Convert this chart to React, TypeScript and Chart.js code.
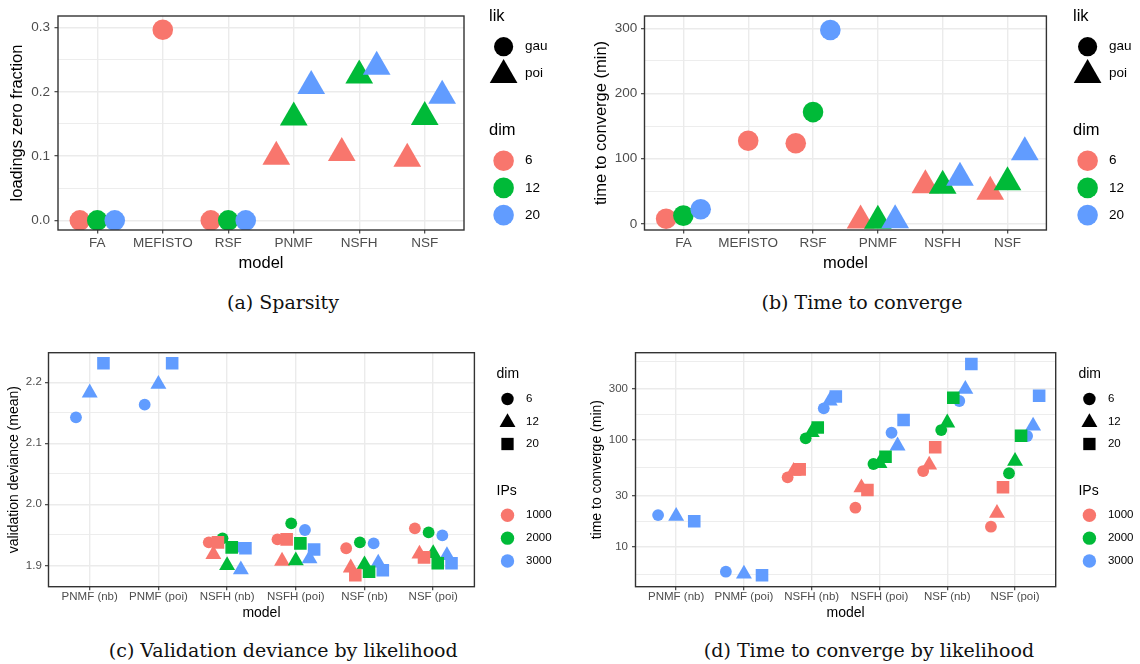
import React, { useEffect, useRef } from 'react';
import { Chart, registerables } from 'chart.js';

Chart.register(...registerables);

const SANS = '"Liberation Sans", Arial, Helvetica, sans-serif';
const SERIF = '"DejaVu Serif", "Liberation Serif", serif';
const HUE = ['#F8766D', '#00BA38', '#619CFF'];
const GRID = '#EBEBEB';
const INK = '#333333';
const TICK_TEXT = '#4D4D4D';

// ---------- (a) and (b): per model ----------
const MODELS = ['FA', 'MEFISTO', 'RSF', 'PNMF', 'NSFH', 'NSF'];
const MODEL_LIK = ['gau', 'gau', 'gau', 'poi', 'poi', 'poi'];
const LIKS = ['gau', 'poi'];
const DIMS = ['6', '12', '20'];

const SPARSITY_DIM6 = [0, 0.2965, 0, 0.099, 0.105, 0.096];
const SPARSITY_DIM12 = [0, null, 0, 0.16, 0.2255, 0.161];
const SPARSITY_DIM20 = [0, null, 0, 0.209, 0.239, 0.194];
const SPARSITY_TICKS = [0, 0.1, 0.2, 0.3];

const TIME_DIM6 = [7.9, 127.6, 123.8, 5.3, 59.4, 49.4];
const TIME_DIM12 = [12.8, null, 171.6, 5.0, 58.7, 64];
const TIME_DIM20 = [22.6, null, 297.6, 5.6, 71, 110];
const TIME_TICKS = [0, 100, 200, 300];

// ---------- (c) and (d): per model and likelihood ----------
const MODELS_LIK = ['PNMF (nb)', 'PNMF (poi)', 'NSFH (nb)', 'NSFH (poi)', 'NSF (nb)', 'NSF (poi)'];
const IPS = ['1000', '2000', '3000'];

const DEV_IP1000_DIM6 = [null, null, 1.9377, 1.9426, 1.928, 1.9607];
const DEV_IP1000_DIM12 = [null, null, 1.918, 1.907, 1.896, 1.9187];
const DEV_IP1000_DIM20 = [null, null, 1.9377, 1.9426, 1.884, 1.913];
const DEV_IP2000_DIM6 = [null, null, 1.9443, 1.9689, 1.9377, 1.954];
const DEV_IP2000_DIM12 = [null, null, 1.9, 1.9077, 1.901, 1.9195];
const DEV_IP2000_DIM20 = [null, null, 1.9295, 1.936, 1.8895, 1.9033];
const DEV_IP3000_DIM6 = [2.1426, 2.1633, 1.93, 1.9579, 1.936, 1.949];
const DEV_IP3000_DIM12 = [2.1828, 2.197, 1.893, 1.911, 1.904, 1.9164];
const DEV_IP3000_DIM20 = [2.2311, 2.2311, 1.928, 1.926, 1.892, 1.9033];
const DEV_TICKS = [1.9, 2.0, 2.1, 2.2];

const TCL_IP1000_DIM6 = [null, null, 44.7, 23.2, 51.2, 15.4];
const TCL_IP1000_DIM12 = [null, null, 51, 35.8, 58.5, 20.6];
const TCL_IP1000_DIM20 = [null, null, 53.1, 34.0, 85.4, 36.1];
const TCL_IP2000_DIM6 = [null, null, 103.7, 59.6, 124, 48.8];
const TCL_IP2000_DIM12 = [null, null, 118, 60.4, 145, 63.4];
const TCL_IP2000_DIM20 = [null, null, 131, 69.8, 249, 109.7];
const TCL_IP3000_DIM6 = [19.8, 5.83, 198, 117, 232, 109];
const TCL_IP3000_DIM12 = [19.3, 5.56, 232, 88.3, 300, 135.8];
const TCL_IP3000_DIM20 = [17.3, 5.4, 256, 154, 515, 260];
const TCL_TICKS = [1, 3, 10, 30, 100, 300, 1000];

// ---------- helpers ----------
type Shape = 'circle' | 'triangle' | 'rect';
type Val = number | null;

const LIK_SHAPE: Record<string, Shape> = { gau: 'circle', poi: 'triangle' };
const DIM_SHAPE: Shape[] = ['circle', 'triangle', 'rect'];
const BIG_R: Record<Shape, number> = { circle: 10.3, triangle: 16, rect: 12 };
const SMALL_R: Record<Shape, number> = { circle: 5.9, triangle: 9.2, rect: 8.9 };

function dodge(groups: Val[][], width: number) {
  return groups.map((vals, g) =>
    vals
      .map((v, i) => {
        if (v === null) return null;
        const present = groups.map((gv, gi) => (gv[i] === null ? -1 : gi)).filter((gi) => gi >= 0);
        const k = present.indexOf(g);
        const n = present.length;
        return { x: i + 1 - width / 2 + (width / n) * (k + 0.5), y: v, cat: i };
      })
      .filter((p) => p !== null) as { x: number; y: number; cat: number }[]
  );
}

function linMinors(majors: number[]) {
  const step = majors[1] - majors[0];
  const out = [majors[0] - step / 2];
  for (let i = 0; i < majors.length - 1; i++) out.push((majors[i] + majors[i + 1]) / 2);
  out.push(majors[majors.length - 1] + step / 2);
  return out;
}
function logMinors(majors: number[]) {
  const out: number[] = [];
  for (let i = 0; i < majors.length - 1; i++) out.push(Math.sqrt(majors[i] * majors[i + 1]));
  return out;
}

function pointDataset(data: any[], color: string, radii: Record<Shape, number>, order: number, shapeOf: (p: any) => Shape) {
  return {
    data: data.map((p) => ({ ...p, s: shapeOf(p) })),
    pointStyle: (c: any) => (c.raw && c.raw.s) || 'circle',
    pointRadius: (c: any) => radii[((c.raw && c.raw.s) || 'circle') as Shape],
    pointHoverRadius: (c: any) => radii[((c.raw && c.raw.s) || 'circle') as Shape],
    pointBackgroundColor: color,
    pointBorderColor: color,
    pointBorderWidth: 0,
    pointHoverBorderWidth: 0,
    showLine: false,
    order,
  };
}

const sparsityPts = dodge([SPARSITY_DIM6, SPARSITY_DIM12, SPARSITY_DIM20], 0.8);
const sparsitySets = sparsityPts.map((pts, d) => pointDataset(pts, HUE[d], BIG_R, 10 - d, (p) => LIK_SHAPE[MODEL_LIK[p.cat]]));
const timePts = dodge([TIME_DIM6, TIME_DIM12, TIME_DIM20], 0.8);
const timeSets = timePts.map((pts, d) => pointDataset(pts, HUE[d], BIG_R, 10 - d, (p) => LIK_SHAPE[MODEL_LIK[p.cat]]));

function likSets(table: Val[][][], width: number) {
  const groups: Val[][] = [];
  table.forEach((row) => row.forEach((vals) => groups.push(vals)));
  const pts = dodge(groups, width);
  const sets: any[] = [];
  for (let ip = 0; ip < 3; ip++) {
    for (let dim = 0; dim < 3; dim++) {
      const drawIdx = dim * 3 + ip;
      sets.push(pointDataset(pts[ip * 3 + dim], HUE[ip], SMALL_R, 100 - drawIdx, () => DIM_SHAPE[dim]));
    }
  }
  return sets;
}
const devSets = likSets(
  [
    [DEV_IP1000_DIM6, DEV_IP1000_DIM12, DEV_IP1000_DIM20],
    [DEV_IP2000_DIM6, DEV_IP2000_DIM12, DEV_IP2000_DIM20],
    [DEV_IP3000_DIM6, DEV_IP3000_DIM12, DEV_IP3000_DIM20],
  ],
  0.6
);
const tclSets = likSets(
  [
    [TCL_IP1000_DIM6, TCL_IP1000_DIM12, TCL_IP1000_DIM20],
    [TCL_IP2000_DIM6, TCL_IP2000_DIM12, TCL_IP2000_DIM20],
    [TCL_IP3000_DIM6, TCL_IP3000_DIM12, TCL_IP3000_DIM20],
  ],
  0.8
);

// ---------- legend ----------
type LegItem =
  | { t: 'title'; text: string; x: number; y: number; size: number }
  | { t: 'key'; shape: Shape; color: string; x: number; y: number; r: number; text: string; tx: number; ty: number; size: number };

function bigLegend(x0: number): LegItem[] {
  const items: LegItem[] = [];
  items.push({ t: 'title', text: 'lik', x: x0, y: 16.7, size: 16.5 });
  LIKS.forEach((l, i) => {
    const sh = LIK_SHAPE[l];
    const ry = 46.7 + 26.6 * i;
    items.push({ t: 'key', shape: sh, color: '#000', x: x0 + 14.6, y: ry + (sh === 'triangle' ? 1.6 : 0), r: sh === 'triangle' ? 16 : 9.6, text: l, tx: x0 + 36, ty: ry, size: 13.5 });
  });
  items.push({ t: 'title', text: 'dim', x: x0, y: 130, size: 16.5 });
  DIMS.forEach((d, i) => {
    const ry = 160.7 + 27.2 * i;
    items.push({ t: 'key', shape: 'circle', color: HUE[i], x: x0 + 14.6, y: ry, r: 10.3, text: d, tx: x0 + 36, ty: ry, size: 13.5 });
  });
  return items;
}
function smallLegend(x0: number): LegItem[] {
  const items: LegItem[] = [];
  items.push({ t: 'title', text: 'dim', x: x0, y: 374.3, size: 14 });
  DIMS.forEach((d, i) => {
    const sh = DIM_SHAPE[i];
    const ry = 399 + 22.5 * i;
    const r = sh === 'circle' ? 6.2 : sh === 'triangle' ? 9.2 : 8.7;
    items.push({ t: 'key', shape: sh, color: '#000', x: x0 + 11, y: ry + (sh === 'triangle' ? 1 : 0), r, text: d, tx: x0 + 29.5, ty: ry, size: 11.5 });
  });
  items.push({ t: 'title', text: 'IPs', x: x0, y: 491.5, size: 14 });
  IPS.forEach((ip, i) => {
    const ry = 515.3 + 22.85 * i;
    items.push({ t: 'key', shape: 'circle', color: HUE[i], x: x0 + 11, y: ry, r: 6.7, text: ip, tx: x0 + 29.5, ty: ry, size: 11.5 });
  });
  return items;
}

function drawShape(ctx: CanvasRenderingContext2D, shape: Shape, x: number, y: number, r: number) {
  ctx.beginPath();
  if (shape === 'circle') {
    ctx.arc(x, y, r, 0, Math.PI * 2);
  } else if (shape === 'triangle') {
    const s = Math.sin((2 * Math.PI) / 3) * r;
    ctx.moveTo(x, y - r);
    ctx.lineTo(x + s, y + r / 2);
    ctx.lineTo(x - s, y + r / 2);
    ctx.closePath();
  } else {
    const h = Math.SQRT1_2 * r;
    ctx.rect(x - h, y - h, 2 * h, 2 * h);
  }
  ctx.fill();
}

function framePlugin(items: LegItem[], ox: number, oy: number) {
  return {
    id: 'ggFrame',
    afterDraw(chart: any) {
      const ctx: CanvasRenderingContext2D = chart.ctx;
      const a = chart.chartArea;
      ctx.save();
      ctx.strokeStyle = INK;
      ctx.lineWidth = 1.4;
      ctx.strokeRect(a.left, a.top, a.right - a.left, a.bottom - a.top);
      ctx.textBaseline = 'middle';
      ctx.textAlign = 'left';
      for (const it of items) {
        if (it.t === 'title') {
          ctx.fillStyle = '#000';
          ctx.font = `${it.size}px ${SANS}`;
          ctx.fillText(it.text, it.x - ox, it.y - oy);
        } else {
          ctx.fillStyle = it.color;
          drawShape(ctx, it.shape, it.x - ox, it.y - oy, it.r);
          ctx.fillStyle = '#000';
          ctx.font = `${it.size}px ${SANS}`;
          ctx.fillText(it.text, it.tx - ox, it.ty - oy);
        }
      }
      ctx.restore();
    },
  };
}

// ---------- panels ----------
interface Panel {
  x: number; y: number; w: number; h: number;
  area: [number, number, number, number];
  datasets: any[];
  cats: string[];
  yType: 'linear' | 'logarithmic';
  yMin: number; yMax: number;
  majors: number[]; minors: number[];
  fmt: (v: number) => string;
  yTitle: string;
  tickSize: number; titleSize: number;
  yTickPad: number; yTitlePad: number; xTickPad: number; xTitlePad: number;
  legend: LegItem[];
}

const PANELS: Panel[] = [
  {
    x: 0, y: 0, w: 568, h: 285, area: [58, 6, 464, 230], datasets: sparsitySets, cats: MODELS,
    yType: 'linear', yMin: -0.0149, yMax: 0.318, majors: SPARSITY_TICKS, minors: linMinors(SPARSITY_TICKS),
    fmt: (v) => v.toFixed(1), yTitle: 'loadings zero fraction', tickSize: 13.5, titleSize: 16.5,
    yTickPad: 4.5, yTitlePad: 7.6, xTickPad: 1.7, xTitlePad: 12.1, legend: bigLegend(489),
  },
  {
    x: 570, y: 0, w: 570, h: 285, area: [74.5, 6, 476.4, 230], datasets: timeSets, cats: MODELS,
    yType: 'linear', yMin: -9.3, yMax: 319, majors: TIME_TICKS, minors: linMinors(TIME_TICKS),
    fmt: (v) => String(Math.round(v)), yTitle: 'time to converge (min)', tickSize: 13.5, titleSize: 16.5,
    yTickPad: 3.7, yTitlePad: 21.1, xTickPad: 1.7, xTitlePad: 12.1, legend: bigLegend(1073),
  },
  {
    x: 0, y: 340, w: 568, h: 290, area: [48.5, 12.7, 474.4, 246.7], datasets: devSets, cats: MODELS_LIK,
    yType: 'linear', yMin: 1.865, yMax: 2.2485, majors: DEV_TICKS, minors: linMinors(DEV_TICKS),
    fmt: (v) => v.toFixed(1), yTitle: 'validation deviance (mean)', tickSize: 11.5, titleSize: 14,
    yTickPad: 3.2, yTitlePad: 6.1, xTickPad: 0.2, xTitlePad: 8.9, legend: smallLegend(496.5),
  },
  {
    x: 570, y: 340, w: 570, h: 290, area: [65.5, 12.7, 485.7, 246.7], datasets: tclSets, cats: MODELS_LIK,
    yType: 'logarithmic', yMin: 4.22, yMax: 658, majors: TCL_TICKS, minors: logMinors(TCL_TICKS),
    fmt: (v) => String(v), yTitle: 'time to converge (min)', tickSize: 11.5, titleSize: 14,
    yTickPad: 4, yTitlePad: 18.9, xTickPad: 0.2, xTitlePad: 8.9, legend: smallLegend(1078.4),
  },
];

const CAPTIONS = [
  { text: '(a) Sparsity', x: 283, y: 301.7 },
  { text: '(b) Time to converge', x: 862, y: 301.7 },
  { text: '(c) Validation deviance by likelihood', x: 283.3, y: 650 },
  { text: '(d) Time to converge by likelihood', x: 869, y: 650 },
];

function makeConfig(p: Panel): any {
  const [l, t, r, b] = p.area;
  const tickFont = { family: SANS, size: p.tickSize };
  const titleFont = { family: SANS, size: p.titleSize };
  const yTicks = [
    ...p.majors.map((v) => ({ value: v, minor: false })),
    ...p.minors.map((v) => ({ value: v, minor: true })),
  ]
    .filter((tk) => tk.value >= p.yMin && tk.value <= p.yMax)
    .sort((a, c) => a.value - c.value);
  const isMinor = (c: any) => !!(c && c.tick && c.tick.minor);
  return {
    type: 'scatter',
    data: { datasets: p.datasets },
    options: {
      animation: false,
      responsive: false,
      maintainAspectRatio: false,
      events: [],
      layout: { padding: { left: 0, top: t, right: p.w - r, bottom: 0 } },
      plugins: { legend: { display: false }, tooltip: { enabled: false } },
      scales: {
        x: {
          type: 'linear',
          bounds: 'data',
          min: 0.4,
          max: 6.6,
          afterBuildTicks: (s: any) => {
            s.ticks = p.cats.map((_, i) => ({ value: i + 1 }));
          },
          afterFit: (s: any) => {
            s.height = p.h - b;
            s.paddingLeft = 0;
            s.paddingRight = 0;
            s.paddingTop = 0;
            s.paddingBottom = 0;
          },
          ticks: {
            autoSkip: false,
            maxRotation: 0,
            minRotation: 0,
            color: TICK_TEXT,
            font: tickFont,
            padding: p.xTickPad,
            callback: (v: any) => p.cats[Math.round(Number(v)) - 1] ?? '',
          },
          grid: { color: GRID, lineWidth: 1.4, tickColor: INK, tickLength: 3.5, tickWidth: 1.1 },
          border: { display: false },
          title: { display: true, text: 'model', color: '#000', font: titleFont, padding: { top: 0, bottom: p.xTitlePad } },
        },
        y: {
          type: p.yType,
          bounds: 'data',
          min: p.yMin,
          max: p.yMax,
          afterBuildTicks: (s: any) => {
            s.ticks = yTicks.map((tk) => ({ ...tk }));
          },
          afterFit: (s: any) => {
            s.width = l;
            s.paddingLeft = 0;
            s.paddingRight = 0;
            s.paddingTop = 0;
            s.paddingBottom = 0;
          },
          ticks: {
            autoSkip: false,
            color: TICK_TEXT,
            font: tickFont,
            padding: p.yTickPad,
            callback: (v: any, i: number, ticks: any[]) => (ticks[i] && ticks[i].minor ? '' : p.fmt(Number(v))),
          },
          grid: {
            color: GRID,
            lineWidth: (c: any) => (isMinor(c) ? 0.9 : 1.4),
            tickColor: (c: any) => (isMinor(c) ? 'rgba(0,0,0,0)' : INK),
            tickLength: 3.5,
            tickWidth: 1.1,
          },
          border: { display: false },
          title: { display: true, text: p.yTitle, color: '#000', font: titleFont, padding: { top: p.yTitlePad, bottom: 0 } },
        },
      },
    },
    plugins: [framePlugin(p.legend, p.x, p.y)],
  };
}

export default function App() {
  const refs = useRef<(HTMLCanvasElement | null)[]>([]);
  useEffect(() => {
    const charts = PANELS.map((p, i) => new Chart(refs.current[i] as HTMLCanvasElement, makeConfig(p)));
    return () => charts.forEach((c) => c.destroy());
  }, []);
  return (
    <div style={{ position: 'fixed', left: 0, top: 0, width: 1140, height: 664, background: '#fff', overflow: 'hidden' }}>
      {PANELS.map((p, i) => (
        <canvas
          key={i}
          ref={(el) => {
            refs.current[i] = el;
          }}
          width={p.w}
          height={p.h}
          style={{ position: 'absolute', left: p.x, top: p.y, width: p.w, height: p.h }}
        />
      ))}
      {CAPTIONS.map((c, i) => (
        <div
          key={i}
          style={{
            position: 'absolute',
            left: c.x,
            top: c.y,
            transform: 'translate(-50%, -50%)',
            whiteSpace: 'nowrap',
            fontFamily: SERIF,
            fontSize: 19,
            color: '#111',
            lineHeight: 1,
          }}
        >
          {c.text}
        </div>
      ))}
    </div>
  );
}
